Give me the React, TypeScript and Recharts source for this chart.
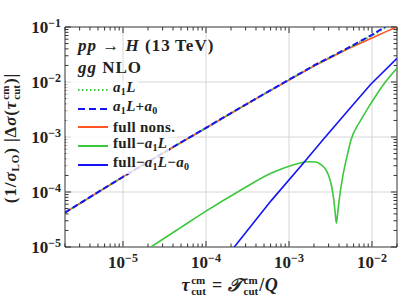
import React from 'react';
import { LineChart, Line, XAxis, YAxis, ReferenceLine, ReferenceArea } from 'recharts';

// tau_cut values shared by the three leading-power curves
const tauMain = [2e-6, 5e-6, 1e-5, 2e-5, 5e-5, 1e-4, 2e-4, 5e-4, 1e-3, 2e-3, 5e-3, 1e-2, 1.5e-2, 2e-2];
const a1L = [4.21e-5, 9.89e-5, 1.88e-4, 3.52e-4, 7.94e-4, 1.46e-3, 2.70e-3, 6.03e-3, 1.09e-2, 1.98e-2, 4.0e-2, 7.0e-2, 1.0e-1, 1.28e-1];
const a1LPlusA0 = [4.23e-5, 9.95e-5, 1.89e-4, 3.54e-4, 7.98e-4, 1.47e-3, 2.72e-3, 6.08e-3, 1.1e-2, 2.0e-2, 4.07e-2, 7.2e-2, 1.05e-1, 1.35e-1];
const fullNons = [4.21e-5, 9.89e-5, 1.88e-4, 3.52e-4, 7.94e-4, 1.46e-3, 2.70e-3, 6.03e-3, 1.09e-2, 1.95e-2, 3.94e-2, 6.31e-2, 8.32e-2, 1.01e-1];

// full - a1 L  (has a sign change near 3.7e-3)
const tauFullMinusA1L = [1.5e-5, 2.17e-5, 5e-5, 1e-4, 2.64e-4, 6.07e-4, 9.6e-4, 1.3e-3, 1.7e-3, 2.1e-3, 2.43e-3, 2.75e-3, 3.0e-3, 3.25e-3, 3.45e-3, 3.6e-3, 3.72e-3, 3.85e-3, 4.04e-3, 4.44e-3, 5.09e-3, 5.58e-3, 7.36e-3, 9.73e-3, 1.41e-2, 2e-2];
const fullMinusA1L = [6.9e-6, 1.0e-5, 2.28e-5, 4.5e-5, 1.09e-4, 2.19e-4, 2.88e-4, 3.3e-4, 3.55e-4, 3.5e-4, 3.15e-4, 2.6e-4, 2.0e-4, 1.3e-4, 7.5e-5, 4.2e-5, 2.7e-5, 4.0e-5, 7.5e-5, 1.9e-4, 5.0e-4, 8.8e-4, 2.04e-3, 4.1e-3, 9.5e-3, 1.78e-2];

// full - a1 L - a0
const tauFullMinusA1LA0 = [1.58e-4, 2.19e-4, 6.07e-4, 1.53e-3, 2.55e-3, 6.12e-3, 9.73e-3, 2e-2];
const fullMinusA1LA0 = [5.5e-6, 1.0e-5, 6.9e-5, 3.51e-4, 8.8e-4, 4.1e-3, 9.2e-3, 2.7e-2];

const xMajor = [1e-5, 1e-4, 1e-3, 1e-2];
const yMajor = [1e-5, 1e-4, 1e-3, 1e-2, 1e-1];

const toPoints = (xs: number[], ys: number[]) => xs.map((x, i) => ({ x, y: ys[i] }));

const mainA1L = toPoints(tauMain, a1L);
const mainA1LA0 = toPoints(tauMain, a1LPlusA0);
const mainFull = toPoints(tauMain, fullNons);
const diff1 = toPoints(tauFullMinusA1L, fullMinusA1L);
const diff2 = toPoints(tauFullMinusA1LA0, fullMinusA1LA0);

// minor + major log ticks
const logTicks = (lo: number, hi: number) => {
  const out: number[] = [];
  for (let e = Math.floor(Math.log10(lo)); e <= Math.ceil(Math.log10(hi)); e++) {
    for (let m = 1; m <= 9; m++) {
      const v = +(m * Math.pow(10, e)).toPrecision(3);
      if (v >= lo * 0.999 && v <= hi * 1.001) out.push(v);
    }
  }
  return out;
};
const xTicks = logTicks(2e-6, 2e-2);
const yTicks = logTicks(1e-5, 1e-1);

const PLOT_TOP = 27;
const PLOT_RIGHT = 397;
const FONT = '"Liberation Serif", "DejaVu Serif", serif';
const AXIS = '#333';
const GREEN = '#3cc83c';
const BLUE = '#1414f5';
const ORANGE = '#ff5522';

const isMajor = (v: number) => Math.abs(Math.log10(v) - Math.round(Math.log10(v))) < 1e-6;

const XTick = (props: any) => {
  const { x, y, payload } = props;
  const v = payload.value;
  const major = isMajor(v);
  const len = major ? 6 : 3.5;
  const exp = Math.round(Math.log10(v));
  return (
    <g>
      <line x1={x} x2={x} y1={y} y2={y - len} stroke={AXIS} strokeWidth={1} />
      <line x1={x} x2={x} y1={PLOT_TOP} y2={PLOT_TOP + len} stroke={AXIS} strokeWidth={1} />
      {major && (
        <text x={x} y={y + 21} textAnchor="middle" fontFamily={FONT} fontWeight="bold" fontSize={17} fill="#222">
          10<tspan dy={-6} fontSize={12}>{'\u2212' + Math.abs(exp)}</tspan>
        </text>
      )}
    </g>
  );
};

const YTick = (props: any) => {
  const { x, y, payload } = props;
  const v = payload.value;
  const major = isMajor(v);
  const len = major ? 6 : 3.5;
  const exp = Math.round(Math.log10(v));
  return (
    <g>
      <line x1={x} x2={x + len} y1={y} y2={y} stroke={AXIS} strokeWidth={1} />
      <line x1={PLOT_RIGHT} x2={PLOT_RIGHT - len} y1={y} y2={y} stroke={AXIS} strokeWidth={1} />
      {major && (
        <text x={x - 4} y={y + 6} textAnchor="end" fontFamily={FONT} fontWeight="bold" fontSize={17} fill="#222">
          10<tspan dy={-6} fontSize={12}>{'\u2212' + Math.abs(exp)}</tspan>
        </text>
      )}
    </g>
  );
};

const SupSub = ({ sup, sub, size, raise }: { sup: string; sub: string; size: number; raise: number }) => (
  <span
    style={{
      display: 'inline-flex',
      flexDirection: 'column',
      fontSize: size,
      lineHeight: `${size}px`,
      verticalAlign: `${raise}px`,
      fontStyle: 'normal',
      letterSpacing: 0,
      marginLeft: 1,
      marginRight: 1,
    }}
  >
    <span>{sup}</span>
    <span>{sub}</span>
  </span>
);

const Sub = ({ children, size = 10 }: { children: React.ReactNode; size?: number }) => (
  <span style={{ fontSize: size, verticalAlign: '-3px', fontStyle: 'normal' }}>{children}</span>
);

const I = ({ children }: { children: React.ReactNode }) => <span style={{ fontStyle: 'italic' }}>{children}</span>;

const legendRows = [
  { key: 'a1L', stroke: GREEN, dash: '1.5 2.5', width: 2, label: <><I>a</I><Sub>1</Sub><I>L</I></> },
  { key: 'a1La0', stroke: BLUE, dash: '7 4', width: 2, label: <><I>a</I><Sub>1</Sub><I>L</I>+<I>a</I><Sub>0</Sub></> },
  { key: 'full', stroke: ORANGE, dash: undefined, width: 2, label: <>full nons.</> },
  { key: 'd1', stroke: GREEN, dash: undefined, width: 2, label: <>full{'\u2212'}<I>a</I><Sub>1</Sub><I>L</I></> },
  { key: 'd2', stroke: BLUE, dash: undefined, width: 2, label: <>full{'\u2212'}<I>a</I><Sub>1</Sub><I>L</I>{'\u2212'}<I>a</I><Sub>0</Sub></> },
];

const titleStyle: React.CSSProperties = {
  position: 'absolute',
  fontFamily: FONT,
  fontWeight: 'bold',
  color: '#222',
  whiteSpace: 'nowrap',
};

export default function App() {
  return (
    <div style={{ position: 'absolute', left: 0, top: 0, width: 399, height: 302, background: '#fff' }}>
      <LineChart width={399} height={302} margin={{ top: PLOT_TOP, right: 2, left: 0, bottom: 0 }}>
        <XAxis
          dataKey="x"
          type="number"
          scale="log"
          domain={[2e-6, 2e-2]}
          allowDataOverflow
          ticks={xTicks}
          interval={0}
          tick={<XTick />}
          tickLine={false}
          axisLine={false}
          tickSize={0}
          tickMargin={0}
          height={55}
        />
        <YAxis
          dataKey="y"
          type="number"
          scale="log"
          domain={[1e-5, 1e-1]}
          allowDataOverflow
          ticks={yTicks}
          interval={0}
          tick={<YTick />}
          tickLine={false}
          axisLine={false}
          tickSize={0}
          tickMargin={0}
          width={65}
        />
        {xMajor.map((v) => (
          <ReferenceLine key={'gx' + v} x={v} stroke="#d6d6d6" strokeWidth={1} />
        ))}
        {yMajor.slice(1, -1).map((v) => (
          <ReferenceLine key={'gy' + v} y={v} stroke="#d6d6d6" strokeWidth={1} />
        ))}
        <Line data={mainFull} dataKey="y" stroke={ORANGE} strokeWidth={1.6} dot={false} isAnimationActive={false} />
        <Line data={mainA1L} dataKey="y" stroke={GREEN} strokeWidth={2} strokeDasharray="1.5 2.5" dot={false} isAnimationActive={false} />
        <Line data={mainA1LA0} dataKey="y" stroke={BLUE} strokeWidth={2} strokeDasharray="6 3" dot={false} isAnimationActive={false} />
        <Line data={diff1} dataKey="y" type="monotone" stroke={GREEN} strokeWidth={1.6} dot={false} isAnimationActive={false} />
        <Line data={diff2} dataKey="y" stroke={BLUE} strokeWidth={1.6} dot={false} isAnimationActive={false} />
        <ReferenceArea x1={2e-6} x2={2e-2} y1={1e-5} y2={1e-1} fill="none" stroke={AXIS} strokeWidth={1} />
      </LineChart>

      {/* legend block */}
      <div style={{ ...titleStyle, left: 78, top: 36, fontSize: 17, lineHeight: '20px', letterSpacing: 1 }}>
        <I>pp</I> {'\u2192'} <I>H</I> (13{'\u2009'}TeV)
      </div>
      <div style={{ ...titleStyle, left: 78, top: 58, fontSize: 17, lineHeight: '20px', letterSpacing: 1 }}>
        <I>gg</I> NLO
      </div>
      {legendRows.map((r, i) => (
        <div
          key={r.key}
          style={{
            ...titleStyle,
            left: 66,
            top: 80.6 + i * 18.7,
            height: 18.7,
            lineHeight: '18.7px',
            paddingLeft: 12,
            paddingRight: 2,
            background: 'rgba(255,255,255,0.8)',
            fontSize: 15,
            letterSpacing: 0.3,
            display: 'flex',
            alignItems: 'center',
          }}
        >
          <svg width={30} height={8} style={{ marginRight: 5 }}>
            <line x1={0} x2={30} y1={4} y2={4} stroke={r.stroke} strokeWidth={r.width} strokeDasharray={r.dash} />
          </svg>
          <span>{r.label}</span>
        </div>
      ))}

      {/* x axis title */}
      <div style={{ ...titleStyle, left: 230, top: 275, transform: 'translateX(-50%)', fontSize: 18, lineHeight: '20px', letterSpacing: 0.6 }}>
        <I>{'\u03C4'}</I>
        <SupSub sup="cm" sub="cut" size={11} raise={7} /> = <I>{'\uD835\uDCAF'}</I>
        <SupSub sup="cm" sub="cut" size={11} raise={7} />/<I>Q</I>
      </div>

      {/* y axis title */}
      <div style={{ ...titleStyle, left: 12, top: 138, transform: 'translate(-50%, -50%) rotate(-90deg)', fontSize: 17, lineHeight: '20px', letterSpacing: 0.9 }}>
        (1/<I>{'\u03C3'}</I><Sub size={11}>LO</Sub>) |{'\u0394'}<I>{'\u03C3'}</I>(<I>{'\u03C4'}</I>
        <SupSub sup="cm" sub="cut" size={11} raise={7} />)|
      </div>
    </div>
  );
}
